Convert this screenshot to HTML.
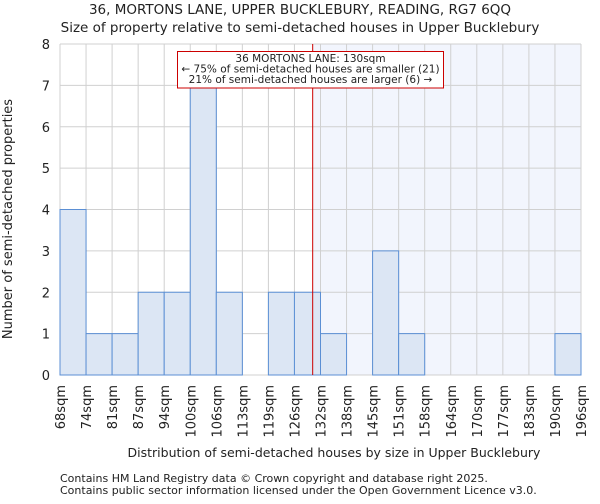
<!DOCTYPE html>
<html><head><meta charset="utf-8"><style>
body{margin:0;background:#fff;font-family:"DejaVu Sans","Liberation Sans",sans-serif}
svg text{font-family:"DejaVu Sans","Liberation Sans",sans-serif;fill:#222}
</style></head><body>
<svg id="chart" width="600" height="500" xmlns="http://www.w3.org/2000/svg">
<text x="300" y="14" font-size="13.5" text-anchor="middle">36, MORTONS LANE, UPPER BUCKLEBURY, READING, RG7 6QQ</text>
<text x="300" y="32" font-size="13.5" text-anchor="middle">Size of property relative to semi-detached houses in Upper Bucklebury</text>
<g id="plot"></g>
<text x="334" y="457" font-size="12.5" text-anchor="middle">Distribution of semi-detached houses by size in Upper Bucklebury</text>
<text transform="translate(12,219) rotate(-90)" font-size="13" text-anchor="middle">Number of semi-detached properties</text>
<text x="60" y="482" font-size="11">Contains HM Land Registry data © Crown copyright and database right 2025.</text>
<text x="60" y="494" font-size="11">Contains public sector information licensed under the Open Government Licence v3.0.</text>
</svg>
<script>
const tickLabels=["68sqm","74sqm","81sqm","87sqm","94sqm","100sqm","106sqm","113sqm","119sqm","126sqm","132sqm","138sqm","145sqm","151sqm","158sqm","164sqm","170sqm","177sqm","183sqm","190sqm","196sqm"];
const counts=[4,1,1,2,2,7,2,0,2,2,1,0,3,1,0,0,0,0,0,1];
const yTicks=[0,1,2,3,4,5,6,7,8];
const markerBin=9.7;
const NS="http://www.w3.org/2000/svg";
const g=document.getElementById('plot');
const X0=60,X1=581,Y0=375,Y1=44,nb=counts.length;
const bw=(X1-X0)/nb;
const xs=i=>X0+i*bw;
const ys=v=>Y0-(v/8)*(Y0-Y1);
function mk(t,a){const e=document.createElementNS(NS,t);for(const k in a)e.setAttribute(k,a[k]);g.appendChild(e);return e;}
const mx=xs(markerBin);
let sh=mk('rect',{x:mx,y:Y1,width:X1-mx,height:Y0-Y1,fill:'#f2f5fd'});


for(let i=0;i<=nb;i++){let l=mk('line',{x1:xs(i),x2:xs(i),y1:Y1,y2:Y0,stroke:'#d0d0d0','stroke-width':1});

}
yTicks.forEach(v=>{let l=mk('line',{x1:X0,x2:X1,y1:ys(v),y2:ys(v),stroke:'#d0d0d0','stroke-width':1});


let t=mk('text',{x:X0-10,y:ys(v)+5,'font-size':13,'text-anchor':'end'});t.textContent=v;

});
counts.forEach((c,i)=>{if(c<=0)return;let r=mk('rect',{x:xs(i),y:ys(c),width:bw,height:Y0-ys(c),fill:'#dce6f4',stroke:'#5b8fd4','stroke-width':1});

});
tickLabels.forEach((s,i)=>{let t=mk('text',{transform:`translate(${xs(i)+5},${Y0+10}) rotate(-90)`,'font-size':13,'text-anchor':'end'});t.textContent=s;

});
let ml=mk('line',{x1:mx,x2:mx,y1:Y1,y2:Y0,stroke:'#cc0000','stroke-width':1});


let box=mk('rect',{x:177.5,y:51.5,width:266,height:36.5,fill:'#fff',stroke:'#cc0000','stroke-width':1});


["36 MORTONS LANE: 130sqm","← 75% of semi-detached houses are smaller (21)","21% of semi-detached houses are larger (6) →"].forEach((s,i)=>{let t=mk('text',{x:310.5,y:62+i*10.5,'font-size':10.5,'text-anchor':'middle'});t.textContent=s;

});
</script>
</body></html>
